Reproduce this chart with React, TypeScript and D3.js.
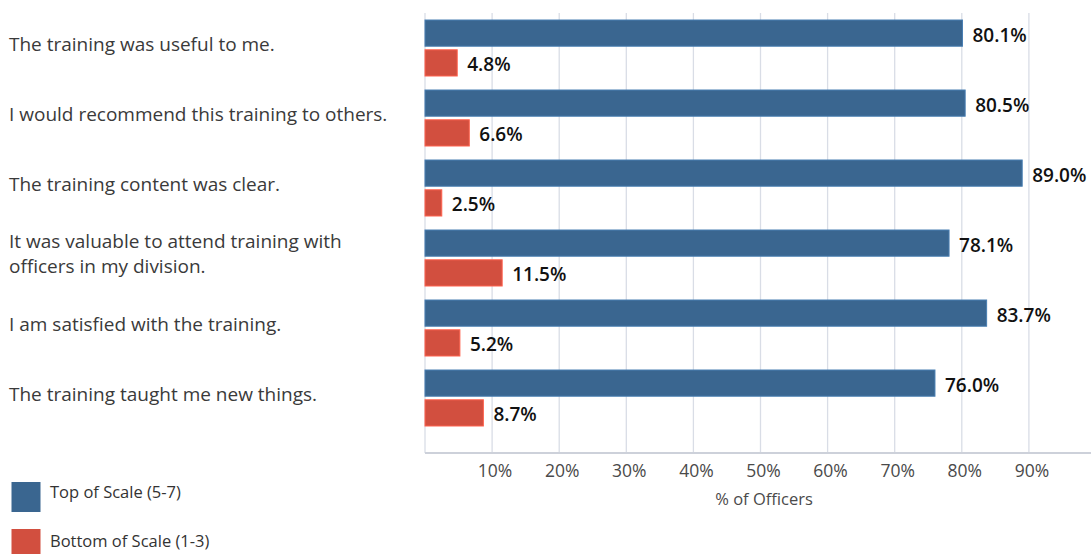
import React, { useMemo } from "react";
import * as d3 from "d3";

const categories = [
  "The training was useful to me.",
  "I would recommend this training to others.",
  "The training content was clear.",
  "It was valuable to attend training with officers in my division.",
  "I am satisfied with the training.",
  "The training taught me new things.",
];
const topOfScale = [80.1, 80.5, 89.0, 78.1, 83.7, 76.0];
const bottomOfScale = [4.8, 6.6, 2.5, 11.5, 5.2, 8.7];
const seriesNames = ["Top of Scale (5-7)", "Bottom of Scale (1-3)"];
const xTicks = [10, 20, 30, 40, 50, 60, 70, 80, 90];
const axisTitle = "% of Officers";

const W = 1091;
const H = 554;
const BLUE = "#3a6690";
const RED = "#d24f3f";
const LABEL_FONT = "'Open Sans', sans-serif";
const CAT_SIZE = 19;

function wrap(text: string, maxW: number, font: string): string[] {
  const ctx = document.createElement("canvas").getContext("2d");
  if (!ctx) return [text];
  ctx.font = font;
  const words = text.split(" ");
  const lines: string[] = [];
  let cur = "";
  for (const w of words) {
    const t = cur ? cur + " " + w : w;
    if (ctx.measureText(t).width > maxW && cur) {
      lines.push(cur);
      cur = w;
    } else cur = t;
  }
  if (cur) lines.push(cur);
  return lines;
}

export default function App() {
  const x = d3.scaleLinear().domain([0, 100]).range([425, 1096]);
  const y = d3
    .scaleBand<string>()
    .domain(categories)
    .range([13, 433])
    .paddingInner(0.2)
    .paddingOuter(0.1);
  const inner = d3
    .scaleBand<number>()
    .domain([0, 1])
    .range([0, y.bandwidth()])
    .paddingInner(0.12);

  const wrapped = useMemo(
    () => categories.map((c) => wrap(c, 394, `${CAT_SIZE}px ${LABEL_FONT}`)),
    []
  );
  const series = [topOfScale, bottomOfScale];
  const colors = [BLUE, RED];
  const plotTop = 13;
  const plotBottom = 453;

  return (
    <svg
      width={W}
      height={H}
      style={{ position: "absolute", left: 0, top: 0 }}
      fontFamily={LABEL_FONT}
    >
      <rect width={W} height={H} fill="#fff" />
      {/* gridlines */}
      {[0, ...xTicks].map((t) => (
        <line
          key={t}
          x1={x(t)}
          x2={x(t)}
          y1={plotTop}
          y2={plotBottom}
          stroke="#d9dde6"
          strokeWidth={1.3}
        />
      ))}
      <line x1={x(0)} x2={W} y1={plotBottom} y2={plotBottom} stroke="#cdd1da" strokeWidth={2} />
      {xTicks.map((t) => (
        <text
          key={t}
          x={x(t) + 3}
          y={477}
          textAnchor="middle"
          fontSize={17.5}
          fill="#4a4a4a"
        >
          {t}%
        </text>
      ))}
      <text x={764} y={505} textAnchor="middle" fontSize={16.5} fill="#4a4a4a">
        {axisTitle}
      </text>

      {/* category labels */}
      {categories.map((c, i) => {
        const cy = (y(c) ?? 0) + y.bandwidth() / 2;
        const lines = wrapped[i];
        const lh = 25.5;
        const start = cy + 2.5 - ((lines.length - 1) * lh) / 2;
        return (
          <text key={c} x={9} fontSize={CAT_SIZE} fill="#3a3a3a">
            {lines.map((l, j) => (
              <tspan key={j} x={9} y={start + j * lh}>
                {l}
              </tspan>
            ))}
          </text>
        );
      })}

      {/* bars */}
      {series.map((vals, s) =>
        categories.map((c, i) => {
          const by = (y(c) ?? 0) + (inner(s) ?? 0);
          const bh = inner.bandwidth();
          return (
            <g key={`${s}-${i}`}>
              <rect
                x={x(0)}
                y={by}
                width={x(vals[i]) - x(0)}
                height={bh}
                fill={colors[s]}
                stroke={d3.color(colors[s])!.brighter(0.6).formatHex()}
                strokeWidth={1}
              />
              <text
                x={x(vals[i]) + 10}
                y={by + bh / 2 + 8.5}
                fontSize={19}
                fontWeight={600}
                fill="#111"
              >
                {vals[i].toFixed(1)}%
              </text>
            </g>
          );
        })
      )}

      {/* legend */}
      {seriesNames.map((n, i) => (
        <g key={n}>
          <rect x={11.5} y={482 + i * 47} width={29} height={30} fill={colors[i]} />
          <text x={50} y={498 + i * 49} fontSize={16.5} fill="#333">
            {n}
          </text>
        </g>
      ))}
    </svg>
  );
}
